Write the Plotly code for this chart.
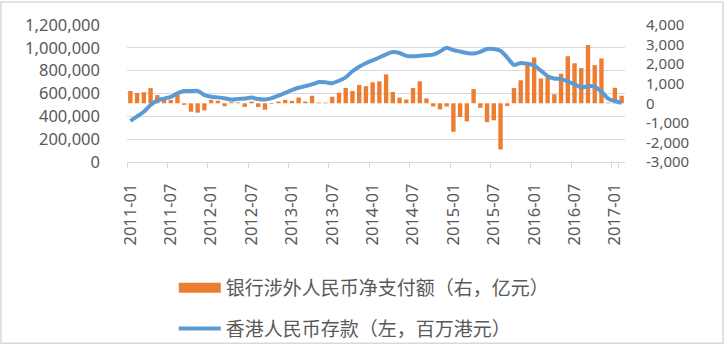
import plotly.graph_objects as go

months = [
    "2011-01","2011-02","2011-03","2011-04","2011-05","2011-06","2011-07","2011-08","2011-09","2011-10","2011-11","2011-12",
    "2012-01","2012-02","2012-03","2012-04","2012-05","2012-06","2012-07","2012-08","2012-09","2012-10","2012-11","2012-12",
    "2013-01","2013-02","2013-03","2013-04","2013-05","2013-06","2013-07","2013-08","2013-09","2013-10","2013-11","2013-12",
    "2014-01","2014-02","2014-03","2014-04","2014-05","2014-06","2014-07","2014-08","2014-09","2014-10","2014-11","2014-12",
    "2015-01","2015-02","2015-03","2015-04","2015-05","2015-06","2015-07","2015-08","2015-09","2015-10","2015-11","2015-12",
    "2016-01","2016-02","2016-03","2016-04","2016-05","2016-06","2016-07","2016-08","2016-09","2016-10","2016-11","2016-12",
    "2017-01","2017-02",
]

# 银行涉外人民币净支付额（右，亿元）
net_payment = [
    630, 530, 565, 775, 420, 225, 175, 450, -80, -430, -480, -360,
    175, 130, -150, 50, 40, -185, 90, -185, -330, -30, 90, 175,
    125, 295, 90, 385, 35, 35, 335, 540, 780, 630, 940, 875,
    1070, 1120, 1475, 580, 290, 195, 780, 1120, 250, -160, -315, -165,
    -1455, -700, -925, 725, -230, -965, -870, -2360, -140, 780, 1175, 1950,
    2340, 1265, 1315, 460, 1510, 2405, 2045, 1800, 2975, 1950, 2290, 30,
    790, 385,
]

# 香港人民币存款（左，百万港元）
hk_deposits = [
    360000, 400000, 440000, 500000, 540000, 555000, 570000, 602000, 621000, 621000, 623000, 586000,
    572000, 566000, 558000, 546000, 553000, 556000, 564000, 551000, 547000, 560000, 582000, 605000,
    630000, 650000, 665000, 680000, 700000, 698000, 690000, 712000, 742000, 795000, 835000, 865000,
    890000, 915000, 943000, 963000, 955000, 930000, 926000, 930000, 935000, 940000, 968000, 1000000,
    980000, 968000, 955000, 950000, 965000, 990000, 990000, 975000, 915000, 850000, 868000, 860000,
    845000, 800000, 752000, 731000, 728000, 705000, 680000, 652000, 665000, 660000, 615000, 555000,
    533000, 518000,
]

x_tick_labels = months[::6]
left_ticks = [0, 200000, 400000, 600000, 800000, 1000000, 1200000]
left_labels = ["0", "200,000", "400,000", "600,000", "800,000", "1,000,000", "1,200,000"]
right_ticks = [-3000, -2000, -1000, 0, 1000, 2000, 3000, 4000]
right_labels = ["-3,000", "-2,000", "-1,000", "0", "1,000", "2,000", "3,000", "4,000"]

bar_name = "银行涉外人民币净支付额（右，亿元）"
line_name = "香港人民币存款（左，百万港元）"

ORANGE = "#ED7D31"
BLUE = "#5B9BD5"
GRID = "#D9D9D9"
TEXT = "#595959"
NUM_FONT = "Noto Sans"
CJK_FONT = "Noto Sans CJK SC"

fig = go.Figure()

fig.add_trace(go.Bar(
    x=months, y=net_payment, name=bar_name, yaxis="y",
    marker=dict(color=ORANGE, line=dict(width=0)),
    showlegend=False, legendgroup="bar",
))
# legend entry for the bar series drawn as a wide block, as in the original
fig.add_trace(go.Scatter(
    x=[None], y=[None], mode="lines", name=bar_name, yaxis="y",
    line=dict(color=ORANGE, width=10), legendgroup="bar", legendrank=1,
))
fig.add_trace(go.Scatter(
    x=months, y=hk_deposits, name=line_name, yaxis="y2", mode="lines",
    line=dict(color=BLUE, width=4, shape="spline", smoothing=0.6),
    legendgroup="line", legendrank=2,
))

fig.update_layout(
    width=724, height=359,
    margin=dict(l=127, r=99, t=25, b=191, pad=0),
    paper_bgcolor="white", plot_bgcolor="white",
    bargap=0.35,
    font=dict(family=NUM_FONT, size=16, color=TEXT),
    xaxis=dict(
        type="category", range=[-0.5, len(months) - 0.5],
        tickmode="array", tickvals=x_tick_labels, ticktext=x_tick_labels,
        tickangle=-90, ticks="outside", ticklen=5, tickcolor=GRID, tickwidth=1,
        tickson="boundaries", ticklabelstandoff=14,
        showline=True, linecolor=GRID, linewidth=1,
        showgrid=False, zeroline=False,
        tickfont=dict(family=NUM_FONT, size=16.5, color=TEXT),
    ),
    yaxis=dict(
        side="right", range=[-3000, 4000],
        tickmode="array", tickvals=right_ticks, ticktext=right_labels,
        showgrid=False, zeroline=False, showline=False, ticks="",
        ticklabelstandoff=20,
        tickfont=dict(family=NUM_FONT, size=15, color=TEXT),
    ),
    yaxis2=dict(
        overlaying="y", side="left", range=[0, 1200000],
        tickmode="array", tickvals=left_ticks, ticktext=left_labels,
        showgrid=True, gridcolor=GRID, gridwidth=1,
        zeroline=False, showline=False, ticks="",
        ticklabelstandoff=26,
        tickfont=dict(family=NUM_FONT, size=16.5, color=TEXT),
    ),
    legend=dict(
        orientation="v", x=0.094, y=-0.78, xanchor="left", yanchor="top",
        font=dict(family=CJK_FONT, size=19, color=TEXT),
        itemwidth=42, tracegroupgap=13, bgcolor="rgba(0,0,0,0)",
    ),
    shapes=[dict(
        type="rect", xref="paper", yref="paper",
        x0=-0.253, x1=1.1968, y0=-1.3238, y1=1.1675,
        line=dict(color=GRID, width=1.5), fillcolor="rgba(0,0,0,0)", layer="above",
    )],
)

fig.write_html(
    "out.html",
    config={"displayModeBar": False, "staticPlot": True},
    post_script=(
        "document.documentElement.style.margin='0';"
        "document.documentElement.style.overflow='hidden';"
        "document.body.style.margin='0';"
        "document.body.style.overflow='hidden';"
        "var gd=document.getElementById('{plot_id}');gd.style.display='block';"
        "window.scrollTo(0,0);"
    ),
)
